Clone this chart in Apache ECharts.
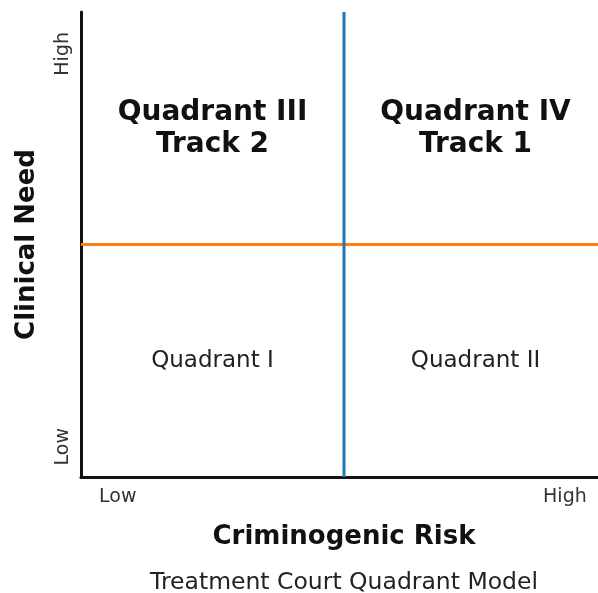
<!DOCTYPE html>
<html>
<head>
<meta charset="utf-8">
<script src="https://cdn.jsdelivr.net/npm/echarts@6/dist/echarts.min.js"></script>
<style>
html,body{margin:0;padding:0;background:#fff;}
#chart{width:598px;height:593px;}
</style>
</head>
<body>
<div id="chart"></div>
<script>
// axis tick positions and labels
const xTickValues = [0.07, 0.92]
const xTickLabels = ['Low', 'High']
const yTickValues = [0.065, 0.91]
const yTickLabels = ['Low', 'High']

// divider lines
const riskSplit = [[0.5, 0], [0.5, 1]]
const needSplit = [[0, 0.5], [1, 0.5]]

// quadrant labels
const trackQuadrants = [
  [0.25, 0.75, 'Quadrant III\nTrack 2'],
  [0.75, 0.75, 'Quadrant IV\nTrack 1']
]
const plainQuadrants = [
  [0.25, 0.25, 'Quadrant I'],
  [0.75, 0.25, 'Quadrant II']
]

const font = 'DejaVu Sans'
const chart = echarts.init(document.getElementById('chart'))

const labelOf = (vals, labels) => v => {
  const i = vals.findIndex(t => Math.abs(t - v) < 1e-6)
  return i >= 0 ? labels[i] : ''
}

chart.setOption({
  animation: false,
  title: {
    text: 'Treatment Court Quadrant Model',
    left: 339,
    textAlign: 'center',
    top: 566,
    textStyle: {fontFamily: font, fontWeight: 'normal', fontSize: 23.5, color: '#222'}
  },
  grid: {left: 81, top: 12, width: 526, height: 465, outerBoundsMode: 'none', containLabel: false},
  xAxis: {
    type: 'value', min: 0, max: 1,
    name: 'Criminogenic Risk',
    nameLocation: 'middle',
    nameGap: 47,
    nameTextStyle: {fontFamily: font, fontWeight: 'bold', fontSize: 26, color: '#111'},
    axisLine: {show: true, onZero: false, lineStyle: {color: '#111', width: 3}},
    axisTick: {show: false},
    splitLine: {show: false},
    axisLabel: {
      customValues: xTickValues,
      formatter: labelOf(xTickValues, xTickLabels),
      fontFamily: font, fontSize: 19, color: '#333', margin: 11
    }
  },
  yAxis: {
    type: 'value', min: 0, max: 1,
    name: 'Clinical Need',
    nameLocation: 'middle',
    nameGap: 41,
    nameTextStyle: {fontFamily: font, fontWeight: 'bold', fontSize: 26, color: '#111'},
    axisLine: {show: true, onZero: false, lineStyle: {color: '#111', width: 3}},
    axisTick: {show: false},
    splitLine: {show: false},
    axisLabel: {
      customValues: yTickValues,
      formatter: labelOf(yTickValues, yTickLabels),
      rotate: 90,
      fontFamily: font, fontSize: 19, color: '#333', margin: 8
    }
  },
  series: [
    {
      type: 'line', data: riskSplit, symbol: 'none',
      lineStyle: {color: '#1f77b4', width: 3}, z: 3
    },
    {
      type: 'line', data: needSplit, symbol: 'none',
      lineStyle: {color: '#ff7f0e', width: 3}, z: 2
    },
    {
      type: 'scatter', symbolSize: 0, itemStyle: {opacity: 1},
      data: trackQuadrants.map(d => ({value: [d[0], d[1]], name: d[2]})),
      label: {
        show: true, position: 'inside', formatter: p => p.name,
        fontFamily: font, fontWeight: 'bold', fontSize: 28, lineHeight: 32, color: '#111'
      }
    },
    {
      type: 'scatter', symbolSize: 0, itemStyle: {opacity: 1},
      data: plainQuadrants.map(d => ({value: [d[0], d[1]], name: d[2]})),
      label: {
        show: true, position: 'inside', formatter: p => p.name,
        fontFamily: font, fontSize: 23, color: '#222'
      }
    }
  ]
})
</script>
</body>
</html>
